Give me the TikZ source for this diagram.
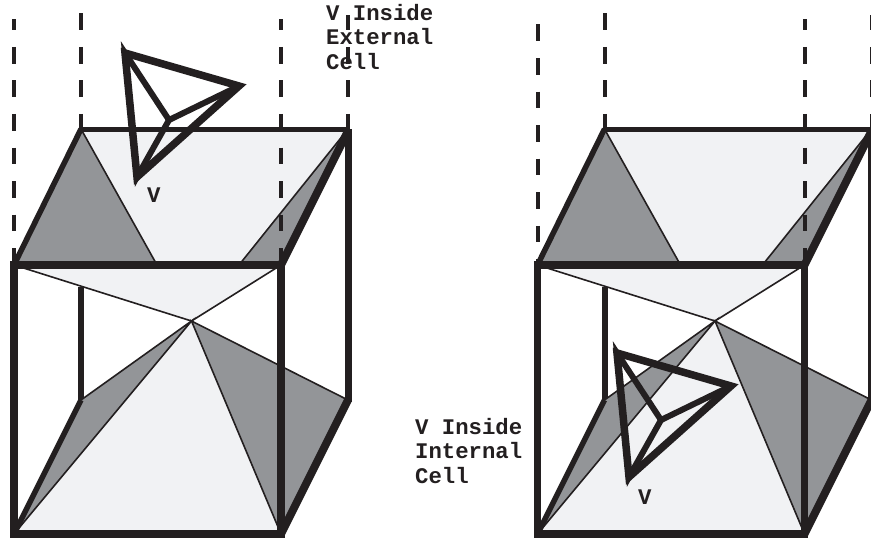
\documentclass[tikz,border=0pt]{standalone}
\usepackage{fontspec}
\setmonofont{Liberation Mono}
\definecolor{shade}{HTML}{939598}
\definecolor{pale}{HTML}{F1F2F4}
\definecolor{ink}{HTML}{231F20}
\tikzset{
  dashline/.style={draw=ink,line width=4pt,dash pattern=on 16.7pt off 16.85pt},
  thin edge/.style={draw=ink,line width=1.6pt},
  tetra/.style={draw=ink,line width=7.5pt,miter limit=12,line join=miter},
  tetra inner/.style={draw=ink,line width=6pt,miter limit=12,line join=miter},
  label/.style={inner sep=0pt,anchor=base west,text=ink,font=\lab},
  block/.style={label,anchor=north west,align=left}
}
\newcommand{\lab}{\fontsize{22.3}{24.5}\selectfont\ttfamily\bfseries}
\newcommand{\cellcube}[2]{%
\begin{scope}[xshift=#1pt]
  \path[fill=shade] (81,129) -- (14,265) -- (157,265) -- cycle;
  \path[fill=shade] (348,129) -- (281,265) -- (239,265) -- cycle;
  \path[fill=pale] (81,129) -- (348,129) -- (239,265) -- (157,265) -- cycle;
  \draw[dashline,dash phase=#2] (14,19) -- (14,265);
  \draw[dashline,dash phase=0] (81,13.3) -- (81,129);
  \draw[dashline,dash phase=5.7] (281,19) -- (281,265);
  \draw[dashline,dash phase=1.7] (348,15) -- (348,129);
  \draw[ink,line width=6pt] (81,287) -- (81,400);
  \path[fill=pale] (14,265) -- (281,265) -- (191.5,321) -- cycle;
  \path[fill=shade] (81,400) -- (191.5,321) -- (14,534) -- cycle;
  \path[fill=shade] (191.5,321) -- (348,400) -- (281,534) -- cycle;
  \path[fill=pale] (14,534) -- (281,534) -- (191.5,321) -- cycle;
  \draw[thin edge] (81,129) -- (157,265);
  \draw[thin edge] (348,129) -- (239,265);
  \draw[thin edge] (14,265) -- (191.5,321) -- (281,265);
  \draw[thin edge] (81,400) -- (191.5,321) -- (14,534);
  \draw[thin edge] (281,534) -- (191.5,321) -- (346,399);
  \draw[ink,line width=5pt] (79,129) -- (348,129);
  \draw[ink,line width=5.5pt] (81,129) -- (14,265);
  \draw[ink,line width=8pt] (348,131) -- (281,265);
  \draw[ink,line width=7pt] (348,129) -- (348,402);
  \draw[ink,line width=5.5pt] (81,400) -- (14,534);
  \draw[ink,line width=8pt] (348,400) -- (281,534);
  \draw[ink,line width=7.5pt] (14,265) rectangle (281,534);
\end{scope}}
\newcommand{\tetrahedron}[2]{%
\begin{scope}[shift={(#1,#2)}]
  \draw[tetra] (125,53) -- (239,86) -- (137,177) -- cycle;
  \draw[tetra inner] (137,177) -- (125,53) -- (169,120) -- (239,86);
  \draw[tetra inner] (125,53) -- (137,177) -- (169,120);
\end{scope}}
\begin{document}
\begin{tikzpicture}[x=1pt,y=-1pt]
  \useasboundingbox (0,0) rectangle (871,539);
  \clip (0,0) rectangle (871,539);
  \fill[white] (0,0) rectangle (871,539);
  \cellcube{0}{5.7}
  \cellcube{523.5}{28.1}
  \tetrahedron{0}{0}
  \tetrahedron{492}{300}
  \node[block] (ext) at (326,4) {V Inside\\External\\Cell};
  \node[block] (int) at (415,418) {V Inside\\Internal\\Cell};
  \node[label] (v1) at (147,202) {V};
  \node[label] (v2) at (638,504) {V};
\end{tikzpicture}
\end{document}
